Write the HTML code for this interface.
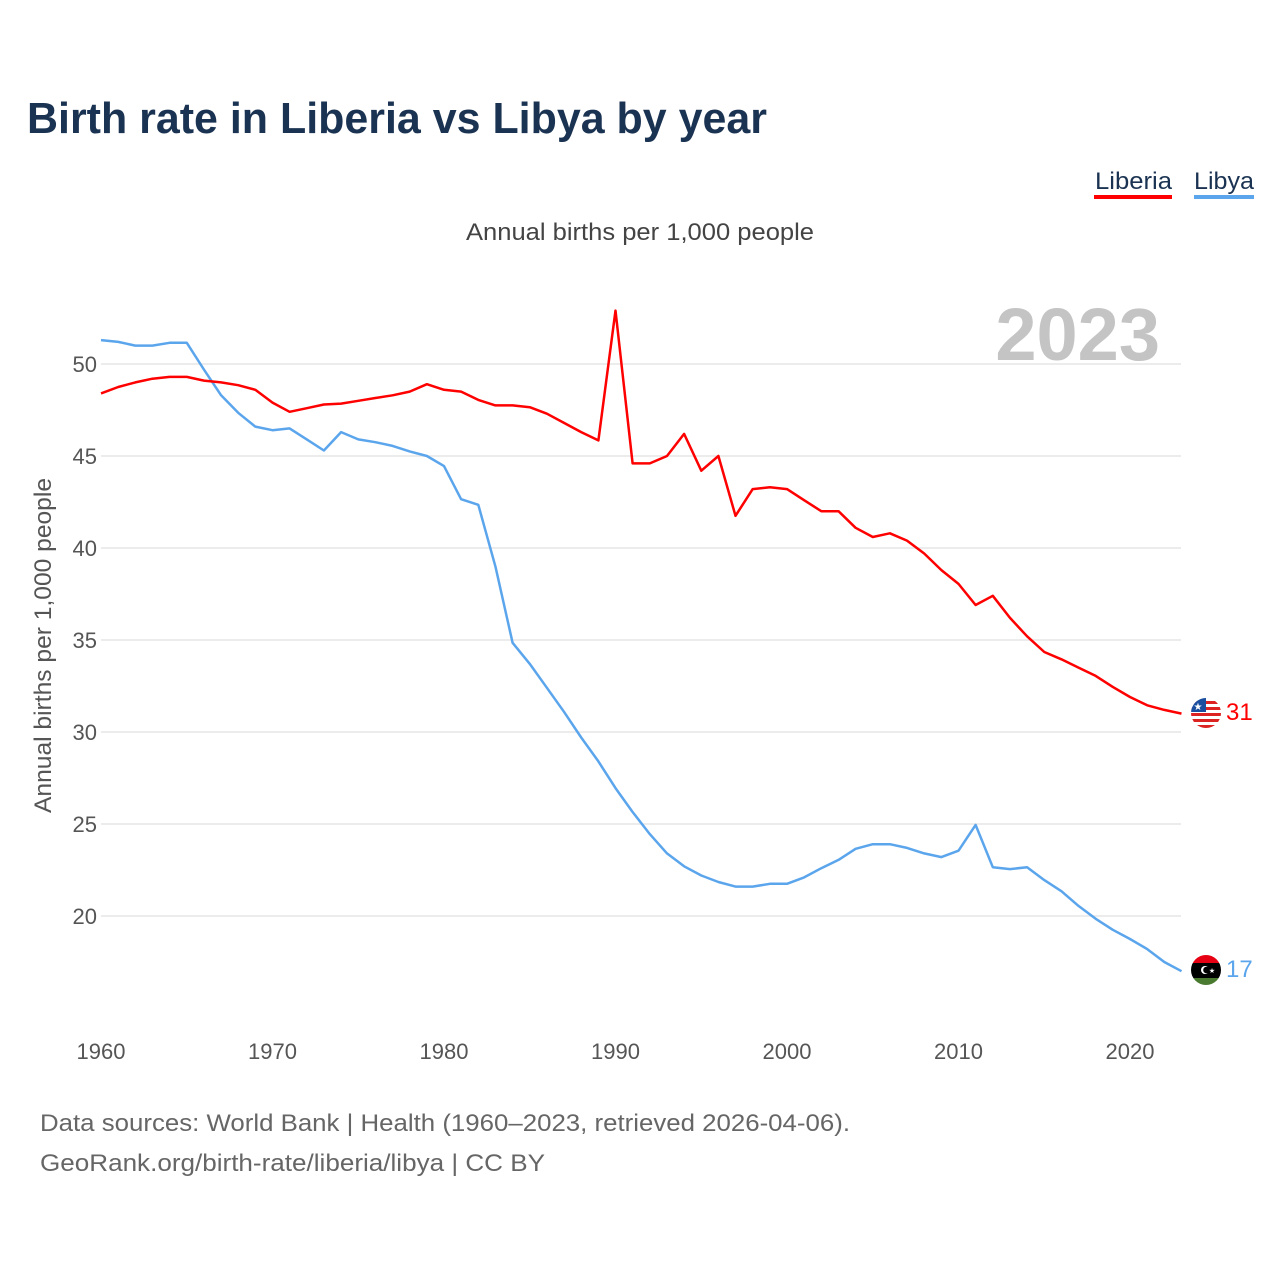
<!DOCTYPE html>
<html><head><meta charset="utf-8"><style>
body{margin:0;background:#fff;font-family:"Liberation Sans",sans-serif}
#wrap{position:relative;width:1280px;height:1280px;overflow:hidden}
</style></head><body>
<div id="wrap">
<svg id="chart" width="1280" height="1280" xmlns="http://www.w3.org/2000/svg">
<text x="27" y="133" font-size="44" font-weight="bold" fill="#1b3352" textLength="740" lengthAdjust="spacingAndGlyphs">Birth rate in Liberia vs Libya by year</text>
<g>
<text x="1095" y="189" font-size="24" fill="#1b3352" textLength="77" lengthAdjust="spacingAndGlyphs">Liberia</text>
<rect x="1094" y="195" width="78" height="4" fill="#ff0000"/>
<text x="1194" y="189" font-size="24" fill="#1b3352" textLength="60" lengthAdjust="spacingAndGlyphs">Libya</text>
<rect x="1194" y="195" width="60" height="4" fill="#5ba5ec"/>
</g>
<text x="466" y="240" font-size="24" fill="#444" textLength="348" lengthAdjust="spacingAndGlyphs">Annual births per 1,000 people</text>
<text x="1160" y="360" font-size="74" font-weight="bold" fill="#c4c4c4" text-anchor="end">2023</text>
<text transform="translate(51,813) rotate(-90)" font-size="24" fill="#555" textLength="335" lengthAdjust="spacingAndGlyphs">Annual births per 1,000 people</text>
<g id="grid"></g><g id="xt"></g><g id="lines"></g>
<g>
<clipPath id="c1"><circle cx="1206" cy="713" r="15"/></clipPath>
<g clip-path="url(#c1)"><rect x="1191" y="698" width="30" height="30" fill="#fff"/>
<rect x="1191" y="701" width="30" height="3" fill="#d22"/><rect x="1191" y="707" width="30" height="3" fill="#d22"/><rect x="1191" y="713" width="30" height="3" fill="#d22"/><rect x="1191" y="719" width="30" height="3" fill="#d22"/><rect x="1191" y="725" width="30" height="3" fill="#d22"/>
<rect x="1191" y="698" width="15" height="14" fill="#1a4fa0"/><text x="1198" y="710" font-size="10" fill="#fff" text-anchor="middle">★</text></g></g>
<g>
<clipPath id="c2"><circle cx="1206" cy="970" r="15"/></clipPath>
<g clip-path="url(#c2)"><rect x="1191" y="955" width="30" height="8" fill="#e70013"/><rect x="1191" y="963" width="30" height="15" fill="#000"/><rect x="1191" y="978" width="30" height="8" fill="#4a7a30"/>
<circle cx="1205" cy="970" r="4" fill="#fff"/><circle cx="1206.5" cy="970" r="3.3" fill="#000"/><text x="1212" y="973" font-size="7" fill="#fff" text-anchor="middle">★</text></g></g>
<text x="1226" y="720" font-size="24" fill="#ff0000">31</text>
<text x="1226" y="977" font-size="24" fill="#5ba5ec">17</text>
<text x="40" y="1131" font-size="24" fill="#666" textLength="810" lengthAdjust="spacingAndGlyphs">Data sources: World Bank | Health (1960–2023, retrieved 2026-04-06).</text>
<text x="40" y="1171" font-size="24" fill="#666" textLength="505" lengthAdjust="spacingAndGlyphs">GeoRank.org/birth-rate/liberia/libya | CC BY</text>
</svg>
</div>
<script>
const startYear = 1960;
const liberia = [48.4,48.75,49.0,49.2,49.3,49.3,49.1,49.0,48.85,48.6,47.9,47.4,47.6,47.8,47.85,48.0,48.15,48.3,48.5,48.9,48.6,48.5,48.05,47.75,47.75,47.65,47.3,46.8,46.3,45.85,52.9,44.6,44.6,45.0,46.2,44.2,45.0,41.75,43.2,43.3,43.2,42.6,42.0,42.0,41.1,40.6,40.8,40.4,39.7,38.8,38.05,36.9,37.4,36.2,35.2,34.35,33.95,33.5,33.05,32.45,31.9,31.45,31.2,31.0];
const libya = [51.3,51.2,51.0,51.0,51.15,51.15,49.7,48.3,47.35,46.6,46.4,46.5,45.9,45.3,46.3,45.9,45.75,45.55,45.25,45.0,44.45,42.65,42.35,39.0,34.85,33.7,32.4,31.1,29.7,28.4,26.95,25.65,24.45,23.4,22.7,22.2,21.85,21.6,21.6,21.75,21.75,22.1,22.6,23.05,23.65,23.9,23.9,23.7,23.4,23.2,23.55,24.95,22.65,22.55,22.65,21.95,21.35,20.55,19.85,19.25,18.75,18.2,17.5,17.0];
const yTicks = [20,25,30,35,40,45,50];
const xTicks = [1960,1970,1980,1990,2000,2010,2020];
const NS='http://www.w3.org/2000/svg';
const X = yr => 101 + (yr-1960)*(1130-101)/60;
const Y = v => 364 + (50-v)*(916-364)/30;
function mk(t,a,p){const e=document.createElementNS(NS,t);for(const k in a)e.setAttribute(k,a[k]);p.appendChild(e);return e;}
const grid=document.getElementById('grid'), xt=document.getElementById('xt'), lines=document.getElementById('lines');
yTicks.forEach(v=>{
  const l=mk('line',{x1:101,x2:1181,y1:Y(v),y2:Y(v),stroke:'#e6e6e6','stroke-width':1.5},grid);
  
  
  const t=mk('text',{x:97,y:Y(v)+8,'font-size':22,fill:'#555','text-anchor':'end'},grid);
  t.textContent=v;
  
  
});
xTicks.forEach(yr=>{
  const t=mk('text',{x:X(yr),y:1059,'font-size':22,fill:'#555','text-anchor':'middle'},xt);
  t.textContent=yr;
  
  
});
function draw(vals,color,name){
  const d=vals.map((v,i)=>(i?'L':'M')+X(startYear+i).toFixed(1)+','+Y(v).toFixed(1)).join('');
  const p=mk('path',{d:d,fill:'none',stroke:color,'stroke-width':2.5,'stroke-linejoin':'round'},lines);
  
  
}
draw(libya,'#5ba5ec','libya-line');
draw(liberia,'#ff0000','liberia-line');
</script>
</body></html>
